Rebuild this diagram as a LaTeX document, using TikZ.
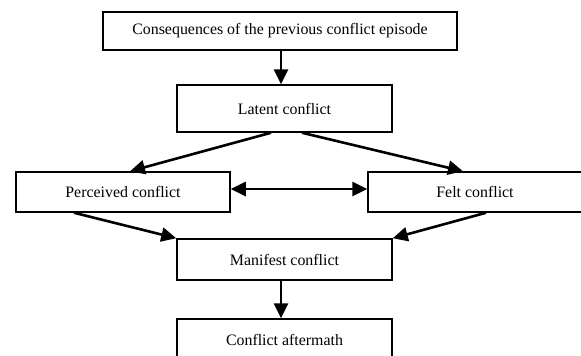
\documentclass[tikz,border=0pt]{standalone}
\usepackage{fontspec}
\setmainfont{Liberation Serif}
\usetikzlibrary{arrows.meta}

\begin{document}
\begin{tikzpicture}[x=1pt,y=-1pt,
    box/.style={draw,line width=1.5pt,inner sep=0pt,
      font=\fontsize{15.9}{19}\selectfont},
    tip/.tip={Triangle[length=15pt,width=14pt]},
    arr/.style={line width=2.6pt,-tip}]
  \useasboundingbox[fill=white] (0,0) rectangle (581,356);

  % episode chain
  \node[box,minimum width=354pt,minimum height=38pt] (prev) at (280,31) {Consequences of the previous conflict episode};
  \node[box,minimum width=215pt,minimum height=47pt] (latent) at (284.5,108.5) {Latent conflict};

  % perceived and felt
  \node[box,minimum width=214pt,minimum height=40pt] (perc) at (123,192) {Perceived conflict};
  \node[box,minimum width=214pt,minimum height=40pt] (felt) at (475,192) {Felt conflict};

  % manifest and aftermath
  \node[box,minimum width=215pt,minimum height=41pt] (manif) at (284.5,259.5) {Manifest conflict};
  \node[box,minimum width=215pt,minimum height=41pt] (after) at (284.5,339.5) {Conflict aftermath};

  \draw[arr] ([xshift=1pt]prev.south) -- ([xshift=-3.5pt]latent.north);
  \draw[arr] ([xshift=-13.5pt]latent.south) -- ([xshift=7pt]perc.north);
  \draw[arr] ([xshift=17.5pt]latent.south) -- ([xshift=-12pt]felt.north);
  \draw[arr,tip-tip] ([yshift=3pt]perc.east) -- ([yshift=3pt]felt.west);
  \draw[arr] ([xshift=-49pt]perc.south) -- (manif.north west);
  \draw[arr] ([xshift=11pt]felt.south) -- (manif.north east);
  \draw[arr] ([xshift=-3.5pt]manif.south) -- ([xshift=-3.5pt]after.north);
\end{tikzpicture}
\end{document}
